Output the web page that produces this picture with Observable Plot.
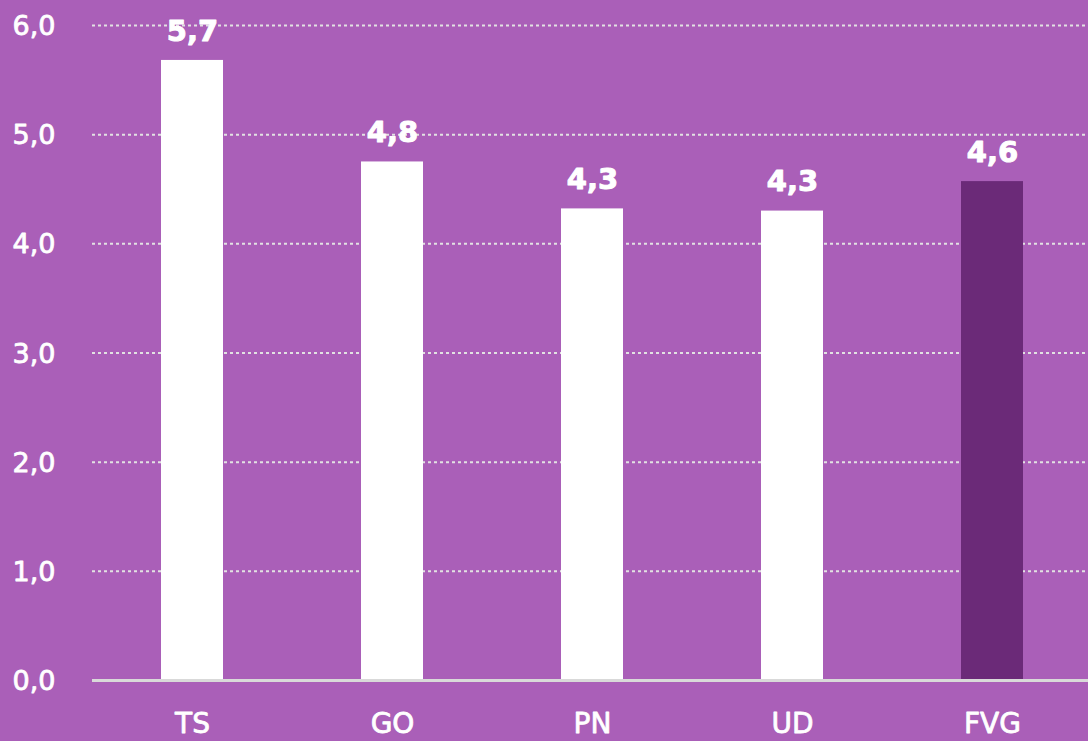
<!DOCTYPE html>
<html>
<head>
<meta charset="utf-8">
<script src="https://cdn.jsdelivr.net/npm/d3@7"></script>
<script src="https://cdn.jsdelivr.net/npm/@observablehq/plot@0.6"></script>
<style>
  html, body { margin: 0; padding: 0; background: #aa5fb8; overflow: hidden; }
  #chart svg { display: block; }
</style>
</head>
<body>
<div id="chart"></div>
<script>
const categories = ["TS", "GO", "PN", "UD", "FVG"];
const values = [5.68, 4.75, 4.32, 4.30, 4.57];
const valueLabels = ["5,7", "4,8", "4,3", "4,3", "4,6"];
const yTicks = [0, 1, 2, 3, 4, 5, 6];
const highlight = "FVG";

const data = categories.map((c, i) => ({cat: c, value: values[i], label: valueLabels[i]}));
const fmt = d => d.toFixed(1).replace(".", ",");

const chart = Plot.plot({
  width: 1088,
  height: 741,
  marginLeft: 92,
  marginRight: 0,
  marginTop: 25,
  marginBottom: 61,
  style: {background: "#aa5fb8", color: "white", fontFamily: "'DejaVu Sans', sans-serif"},
  x: {domain: categories, range: [92, 1092], paddingInner: 0.69, paddingOuter: 0.345, axis: null},
  y: {domain: [0, 6], axis: null},
  marks: [
    Plot.ruleY(yTicks.filter(d => d > 0), {stroke: "#e2e2e2", strokeWidth: 2, strokeDasharray: "3,3"}),
    Plot.barY(data, {x: "cat", y: "value", fill: d => d.cat === highlight ? "#6b2a78" : "#ffffff"}),
    Plot.ruleY([0], {stroke: "#d9d9d9", strokeWidth: 3}),
    Plot.text(yTicks, {y: d => d, text: fmt, frameAnchor: "left", dx: -80, dy: 1, textAnchor: "start",
      fill: "white", stroke: "white", strokeWidth: 0.8, fontSize: 27, fontWeight: 500, letterSpacing: 1.5}),
    Plot.text(data, {x: "cat", text: "cat", frameAnchor: "bottom", dy: 52,
      fill: "white", stroke: "white", strokeWidth: 0.8, fontSize: 28, fontWeight: 500, letterSpacing: 2}),
    Plot.text(data, {x: "cat", y: "value", text: "label", dy: -29,
      fill: "white", stroke: "white", strokeWidth: 1, fontSize: 29, fontWeight: 700})
  ]
});
document.getElementById("chart").append(chart);
</script>
</body>
</html>
